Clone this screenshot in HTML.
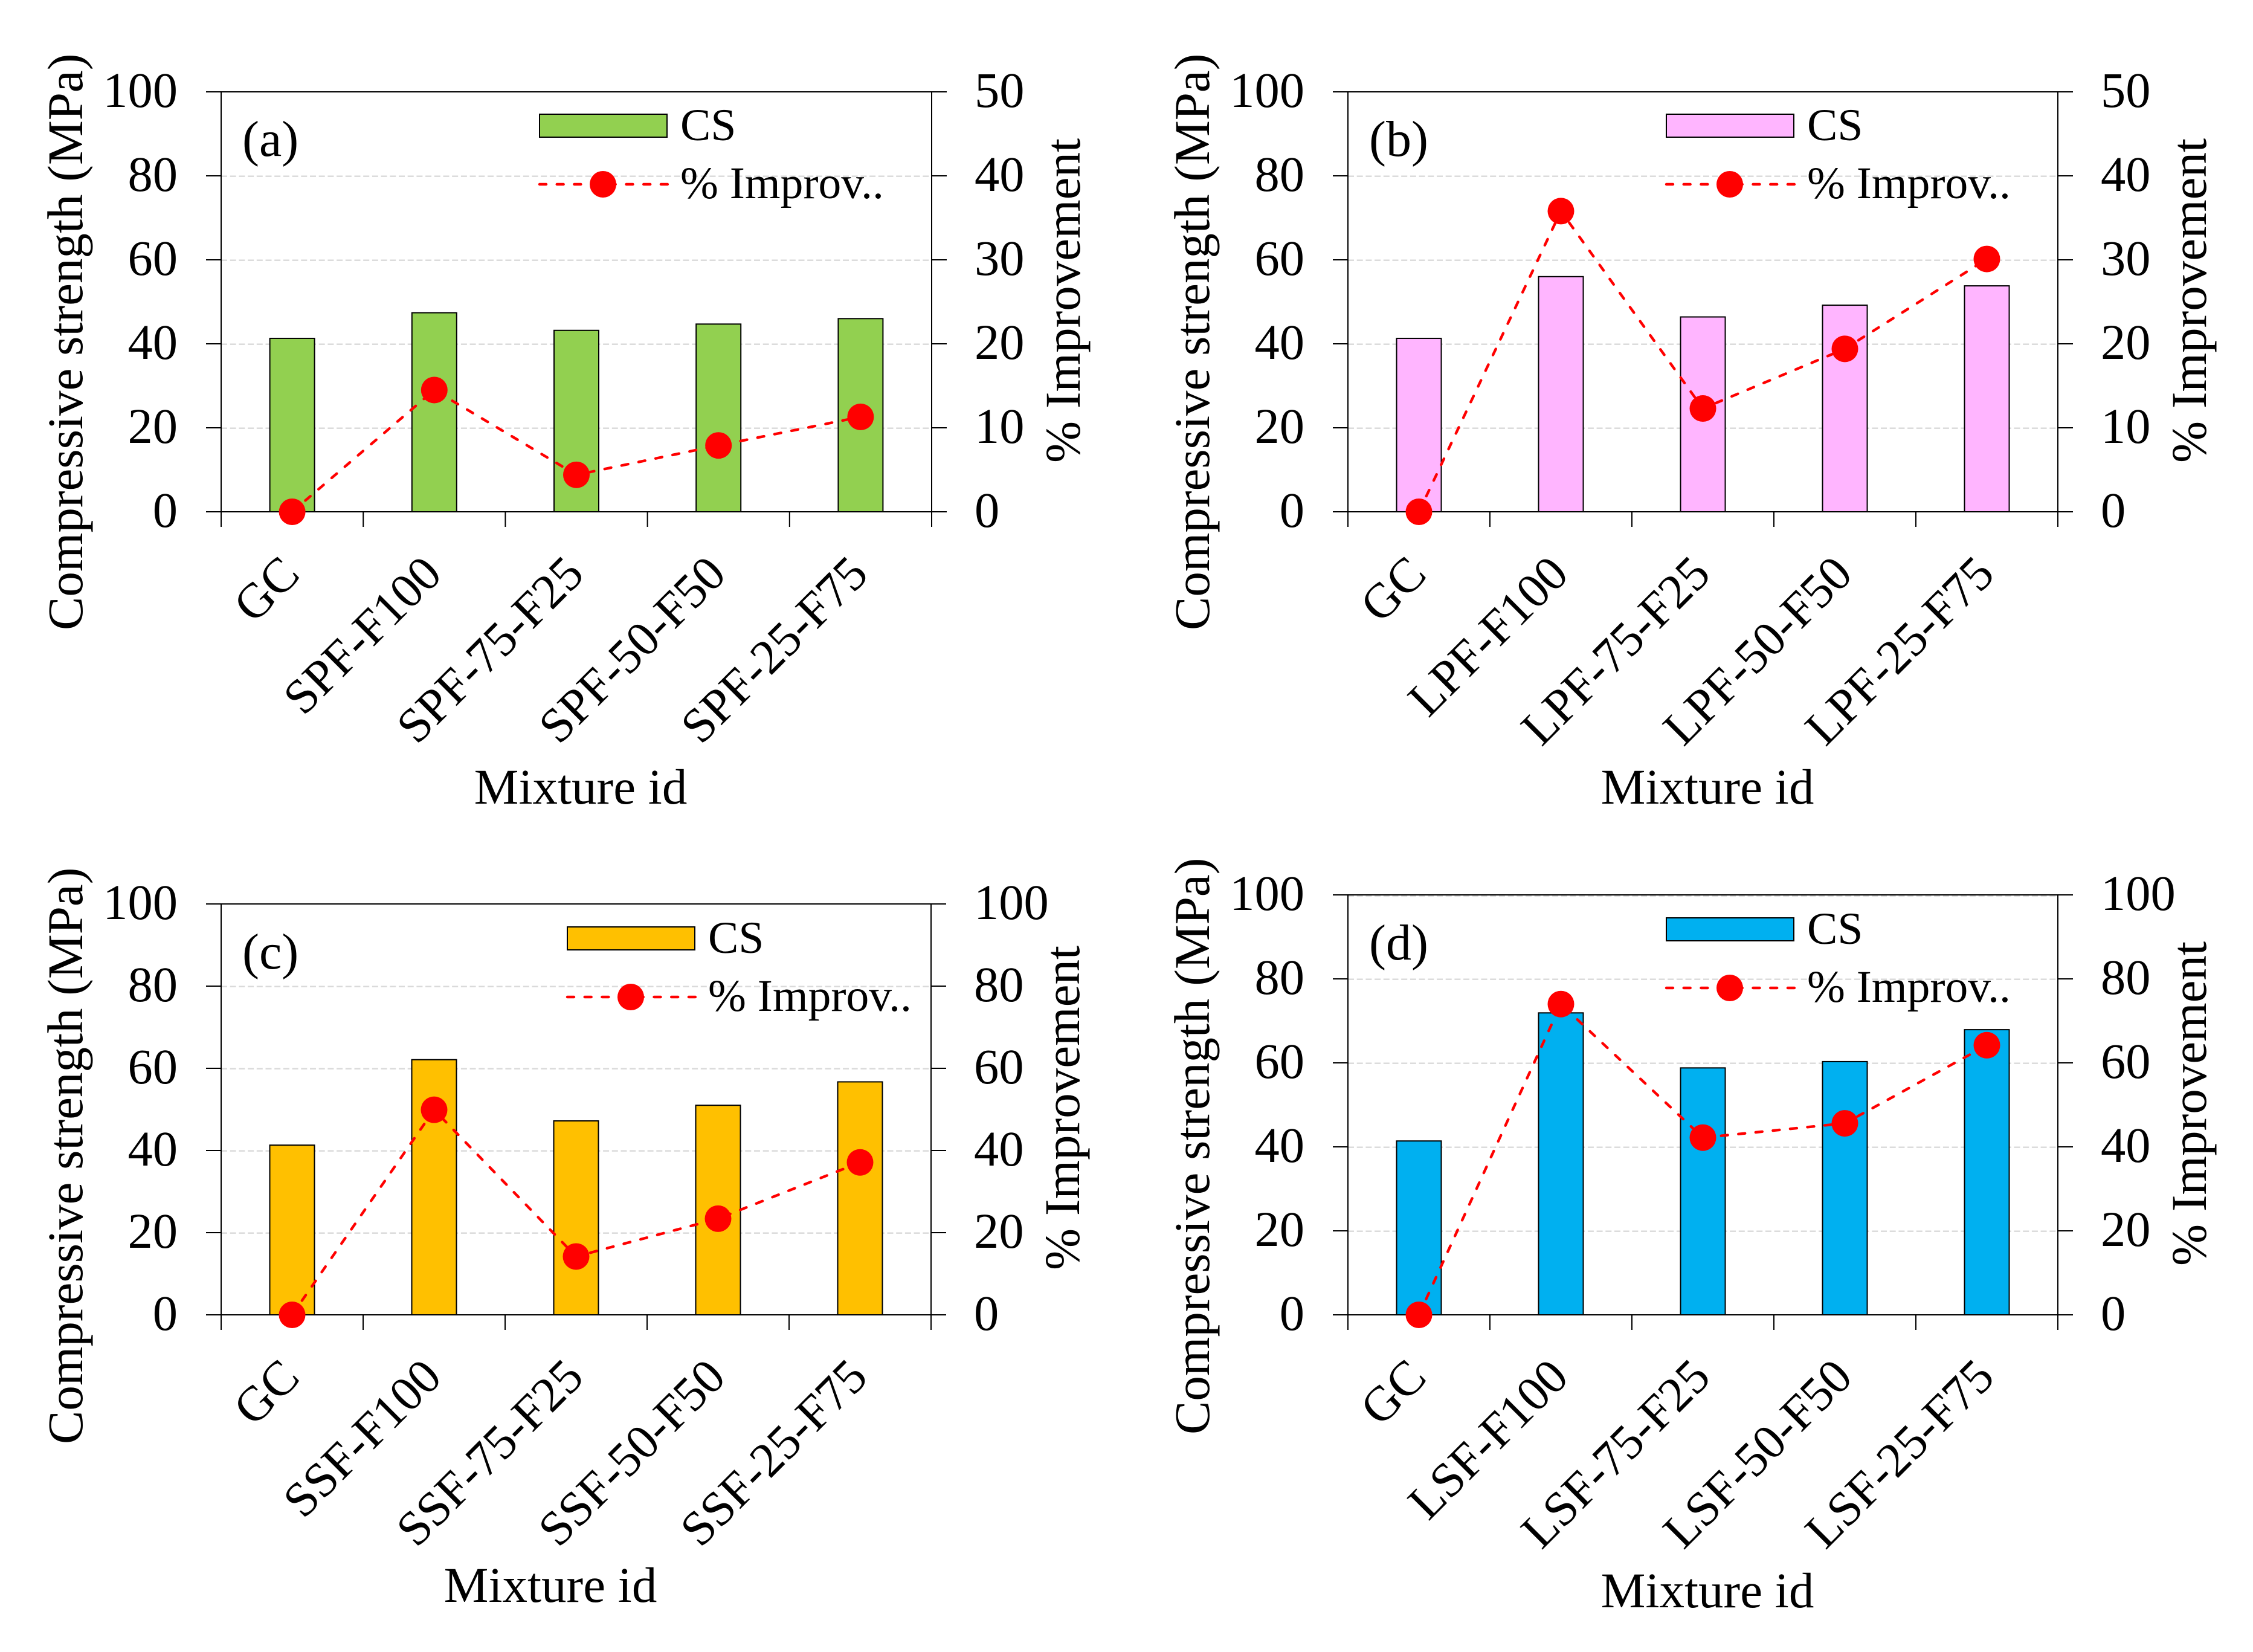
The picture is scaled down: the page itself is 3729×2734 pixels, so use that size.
<!DOCTYPE html>
<html lang="en">
<head>
<meta charset="utf-8">
<title>Compressive strength and improvement by mixture</title>
<style>
html,body{margin:0;padding:0;background:#fff;}
svg{display:block;}
text{font-family:"Liberation Serif",serif;fill:#000;}
</style>
</head>
<body>
<svg id="figure" xmlns="http://www.w3.org/2000/svg" width="3729" height="2734" viewBox="0 0 3729 2734"></svg>
<script>
// ---- data ----
const strengthTicks = [0, 20, 40, 60, 80, 100];
const improvementTicks50 = [0, 10, 20, 30, 40, 50];
const improvementTicks100 = [0, 20, 40, 60, 80, 100];

const categoriesA = ['GC', 'SPF-F100', 'SPF-75-F25', 'SPF-50-F50', 'SPF-25-F75'];
const strengthA = [41.3, 47.4, 43.2, 44.7, 46.0];
const improvementA = [0, 14.5, 4.4, 7.9, 11.3];

const categoriesB = ['GC', 'LPF-F100', 'LPF-75-F25', 'LPF-50-F50', 'LPF-25-F75'];
const strengthB = [41.3, 56.0, 46.4, 49.2, 53.8];
const improvementB = [0, 35.8, 12.3, 19.4, 30.1];

const categoriesC = ['GC', 'SSF-F100', 'SSF-75-F25', 'SSF-50-F50', 'SSF-25-F75'];
const strengthC = [41.3, 62.1, 47.2, 51.0, 56.7];
const improvementC = [0, 49.9, 14.2, 23.4, 37.1];

const categoriesD = ['GC', 'LSF-F100', 'LSF-75-F25', 'LSF-50-F50', 'LSF-25-F75'];
const strengthD = [41.4, 71.9, 58.8, 60.3, 67.9];
const improvementD = [0, 74.0, 42.2, 45.6, 64.2];

const SVG_NS = 'http://www.w3.org/2000/svg';
const figure = document.getElementById('figure');

function make(tag, attrs, parent, content) {
  const el = document.createElementNS(SVG_NS, tag);
  for (const k in attrs) el.setAttribute(k, attrs[k]);
  if (content !== undefined) el.textContent = content;
  parent.appendChild(el);
  return el;
}

function drawPanel(p) {
  const xStep = (p.right - p.left) / p.categories.length;
  const xCenter = i => p.left + xStep * (i + 0.5);
  const yLeft = v => p.zero + (p.top - p.zero) * v / p.leftMax;
  const yRight = v => p.zero + (p.top - p.zero) * v / p.rightMax;

  const g = make('g', {}, figure);
  
  

  // gridlines
  p.leftTicks.forEach(v => {
    if (v === 0 || (v === p.leftMax && !p.topGrid)) return;
    const y = yLeft(v) + (v === p.leftMax ? 1.5 : 0.7);
    const grid = make('line', {x1: p.left, x2: p.right, y1: y, y2: y, stroke: '#d9d9d9', 'stroke-width': 2.4, 'stroke-dasharray': '10 4.7'}, g);
    
    
  });

  // bars
  p.strength.forEach((v, i) => {
    const bar = make('rect', {x: xCenter(i) - 37, y: yLeft(v), width: 74, height: p.zero - yLeft(v), fill: p.color, stroke: '#000', 'stroke-width': 2}, g);
    
    
  });

  // axes frame
  const frame = make('g', {stroke: '#000', 'stroke-width': 2}, g);
  
  
  make('line', {x1: p.left, x2: p.left, y1: p.top, y2: p.zero + 25}, frame);
  make('line', {x1: p.right, x2: p.right, y1: p.top, y2: p.zero + 25}, frame);
  make('line', {x1: p.left - 25, x2: p.right + 25, y1: p.top, y2: p.top}, frame);
  make('line', {x1: p.left - 25, x2: p.right + 25, y1: p.zero, y2: p.zero}, frame);
  p.categories.forEach((c, i) => {
    if (i === 0) return;
    const x = p.left + xStep * i;
    make('line', {x1: x, x2: x, y1: p.zero, y2: p.zero + 25}, frame);
  });
  p.leftTicks.forEach(v => {
    const y = yLeft(v);
    make('line', {x1: p.left - 25, x2: p.left, y1: y, y2: y}, frame);
  });
  p.rightTicks.forEach(v => {
    const y = yRight(v);
    make('line', {x1: p.right, x2: p.right + 25, y1: y, y2: y}, frame);
  });

  // improvement line and markers
  const linePoints = p.improvement.map((v, i) => xCenter(i) + ',' + yRight(v)).join(' ');
  const line = make('polyline', {points: linePoints, fill: 'none', stroke: '#ff0000', 'stroke-width': 4.4, 'stroke-dasharray': '11 17.7', 'stroke-linecap': 'round', 'stroke-linejoin': 'round'}, g);
  
  
  p.improvement.forEach((v, i) => {
    const dot = make('circle', {cx: xCenter(i), cy: yRight(v), r: 22, fill: '#ff0000'}, g);
    
    
  });

  // tick labels
  p.leftTicks.forEach(v => {
    const t = make('text', {x: p.left - 72, y: yLeft(v) + 25, 'text-anchor': 'end', 'font-size': 82.5}, g, String(v));
    
    
  });
  p.rightTicks.forEach(v => {
    const t = make('text', {x: p.right + 71, y: yRight(v) + 25, 'text-anchor': 'start', 'font-size': 82.5}, g, String(v));
    
    
  });
  p.categories.forEach((c, i) => {
    const ax = xCenter(i) + 16;
    const ay = p.zero + 107;
    const t = make('text', {x: ax, y: ay, 'text-anchor': 'end', 'font-size': 81, transform: 'rotate(-45 ' + ax + ' ' + ay + ')'}, g, c);
    
    
  });

  // axis titles
  const lt = make('text', {x: 0, y: 0, 'font-size': 83, transform: 'translate(' + (p.left - 230) + ' ' + p.leftTitleY + ') rotate(-90)'}, g, 'Compressive strength (MPa)');
  
  
  const rt = make('text', {x: 0, y: 0, 'font-size': 83, transform: 'translate(' + (p.right + 245) + ' ' + p.rightTitleY + ') rotate(-90)'}, g, '% Improvement');
  
  
  const xt = make('text', {x: p.xTitleX, y: p.xTitleY, 'text-anchor': 'middle', 'font-size': 83}, g, 'Mixture id');
  
  

  // panel letter
  const letter = make('text', {x: p.left + 35, y: p.letterY, 'font-size': 84}, g, p.letter);
  
  

  // legend
  const legend = make('g', {}, g);
  
  
  const sw = make('rect', {x: p.legendX, y: p.legendY, width: 211, height: 38, fill: p.color, stroke: '#000', 'stroke-width': 2}, legend);
  
  
  const ls = make('text', {x: p.legendX + 233, y: p.legendY + 43, 'font-size': 75.5}, legend, 'CS');
  
  
  const ll = make('line', {x1: p.legendX, x2: p.legendX + 212, y1: p.legendY + 116, y2: p.legendY + 116, stroke: '#ff0000', 'stroke-width': 4.4, 'stroke-dasharray': '11 17.7', 'stroke-linecap': 'round'}, legend);
  
  
  const lm = make('circle', {cx: p.legendX + 105, cy: p.legendY + 116, r: 22, fill: '#ff0000'}, legend);
  
  
  const li = make('text', {x: p.legendX + 233, y: p.legendY + 139, 'font-size': 75.5}, legend, '% Improv..');
  
  
}

drawPanel({id: 'a', letter: '(a)', color: '#92d050', categories: categoriesA, strength: strengthA, improvement: improvementA,
  leftTicks: strengthTicks, rightTicks: improvementTicks50, leftMax: 100, rightMax: 50,
  left: 366, right: 1542, top: 152, zero: 847, leftTitleY: 1043, rightTitleY: 766, xTitleX: 961, xTitleY: 1330, letterY: 258, legendX: 893, legendY: 189});
drawPanel({id: 'b', letter: '(b)', color: '#ffb5ff', categories: categoriesB, strength: strengthB, improvement: improvementB,
  leftTicks: strengthTicks, rightTicks: improvementTicks50, leftMax: 100, rightMax: 50,
  left: 2231, right: 3406, top: 152, zero: 847, leftTitleY: 1043, rightTitleY: 766, xTitleX: 2826, xTitleY: 1330, letterY: 258, legendX: 2758, legendY: 189});
drawPanel({id: 'c', letter: '(c)', color: '#ffc000', categories: categoriesC, strength: strengthC, improvement: improvementC,
  leftTicks: strengthTicks, rightTicks: improvementTicks100, leftMax: 100, rightMax: 100,
  left: 366, right: 1541, top: 1496, zero: 2176, leftTitleY: 2390, rightTitleY: 2102, xTitleX: 911, xTitleY: 2651, letterY: 1603, legendX: 939, legendY: 1534});
drawPanel({id: 'd', letter: '(d)', color: '#00b0f0', categories: categoriesD, strength: strengthD, improvement: improvementD,
  leftTicks: strengthTicks, rightTicks: improvementTicks100, leftMax: 100, rightMax: 100, topGrid: true,
  left: 2231, right: 3406, top: 1481, zero: 2176, leftTitleY: 2374, rightTitleY: 2095, xTitleX: 2826, xTitleY: 2660, letterY: 1588, legendX: 2758, legendY: 1519});
</script>
</body>
</html>
